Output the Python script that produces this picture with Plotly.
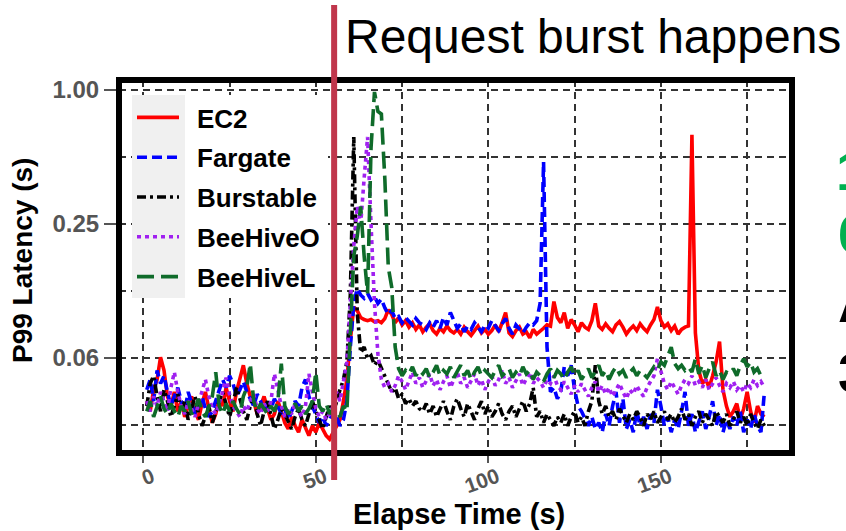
import plotly.graph_objects as go

# ---------------- data ----------------
elapsed = list(range(1, 181))

ec2 = [
    0.040, 0.036, 0.045, 0.050, 0.063, 0.055, 0.042, 0.038, 0.044, 0.036,
    0.040, 0.034, 0.038, 0.042, 0.036, 0.033, 0.039, 0.044, 0.037, 0.032,
    0.035, 0.041, 0.038, 0.046, 0.040, 0.036, 0.044, 0.050, 0.058, 0.048,
    0.042, 0.040, 0.035, 0.038, 0.042, 0.037, 0.033, 0.035, 0.040, 0.036,
    0.032, 0.030, 0.034, 0.031, 0.029, 0.033, 0.030, 0.028, 0.031, 0.029,
    0.032, 0.030, 0.028, 0.027, 0.029, 0.031, 0.033, 0.040, 0.050, 0.075,
    0.106, 0.102, 0.095, 0.093, 0.092, 0.093, 0.091, 0.092, 0.090, 0.094,
    0.103, 0.098, 0.090, 0.095, 0.088, 0.092, 0.086, 0.090, 0.084, 0.088,
    0.082, 0.086, 0.089, 0.083, 0.080, 0.085, 0.082, 0.087, 0.083, 0.081,
    0.084, 0.080, 0.086, 0.082, 0.079, 0.083, 0.087, 0.081, 0.084, 0.080,
    0.083, 0.088, 0.082, 0.090, 0.100, 0.081, 0.078, 0.083, 0.086, 0.080,
    0.082, 0.077, 0.084, 0.080, 0.083, 0.085, 0.088, 0.087, 0.112, 0.095,
    0.090, 0.100, 0.085, 0.093, 0.088, 0.082, 0.090, 0.086, 0.084, 0.092,
    0.110, 0.087, 0.084, 0.089, 0.085, 0.082, 0.088, 0.091, 0.086, 0.080,
    0.084, 0.087, 0.083, 0.089, 0.085, 0.082, 0.088, 0.093, 0.106, 0.092,
    0.086, 0.089, 0.083, 0.087, 0.080, 0.084, 0.086, 0.087, 0.630, 0.081,
    0.055, 0.048, 0.050, 0.046, 0.052, 0.060, 0.074, 0.045, 0.038, 0.034,
    0.036, 0.039, 0.033, 0.037, 0.044, 0.036, 0.032, 0.038, 0.035, 0.034,
]

fargate = [
    0.045, 0.050, 0.040, 0.055, 0.048, 0.052, 0.044, 0.038, 0.042, 0.046,
    0.040, 0.036, 0.044, 0.039, 0.035, 0.038, 0.042, 0.037, 0.034, 0.036,
    0.040, 0.044, 0.050, 0.046, 0.052, 0.048, 0.042, 0.045, 0.049, 0.044,
    0.041, 0.038, 0.043, 0.040, 0.036, 0.039, 0.037, 0.041, 0.038, 0.035,
    0.037, 0.033, 0.036, 0.040, 0.038, 0.046, 0.050, 0.042, 0.038, 0.035,
    0.032, 0.034, 0.031, 0.033, 0.036, 0.034, 0.031, 0.033, 0.040, 0.070,
    0.110, 0.128, 0.120, 0.116, 0.122, 0.114, 0.118, 0.110, 0.115, 0.105,
    0.098, 0.102, 0.094, 0.096, 0.090, 0.095, 0.092, 0.088, 0.094, 0.090,
    0.088, 0.084, 0.090, 0.086, 0.092, 0.085, 0.095, 0.088, 0.100, 0.092,
    0.085, 0.089, 0.082, 0.087, 0.084, 0.090, 0.086, 0.082, 0.088, 0.085,
    0.092, 0.087, 0.083, 0.089, 0.094, 0.085, 0.080, 0.088, 0.084, 0.081,
    0.086, 0.090, 0.088, 0.092, 0.110, 0.475, 0.070, 0.044, 0.046, 0.041,
    0.044, 0.057, 0.052, 0.058, 0.045, 0.038, 0.036, 0.033, 0.031, 0.034,
    0.030, 0.032, 0.029, 0.035, 0.031, 0.038, 0.044, 0.032, 0.041, 0.030,
    0.033, 0.029, 0.036, 0.031, 0.034, 0.030, 0.035, 0.032, 0.045, 0.038,
    0.031, 0.034, 0.029, 0.033, 0.030, 0.036, 0.044, 0.031, 0.035, 0.029,
    0.032, 0.036, 0.030, 0.034, 0.040, 0.031, 0.035, 0.029, 0.033, 0.030,
    0.034, 0.031, 0.036, 0.029, 0.033, 0.030, 0.035, 0.031, 0.029, 0.044,
]

burstable = [
    0.038, 0.048, 0.052, 0.042, 0.036, 0.045, 0.040, 0.034, 0.038, 0.043,
    0.036, 0.040, 0.033, 0.037, 0.042, 0.035, 0.031, 0.034, 0.038, 0.032,
    0.036, 0.040, 0.044, 0.038, 0.034, 0.039, 0.046, 0.041, 0.036, 0.033,
    0.038, 0.042, 0.035, 0.031, 0.036, 0.040, 0.034, 0.030, 0.033, 0.037,
    0.035, 0.032, 0.030, 0.034, 0.037, 0.033, 0.031, 0.035, 0.040, 0.036,
    0.033, 0.030, 0.034, 0.038, 0.035, 0.040, 0.045, 0.050, 0.060, 0.120,
    0.615, 0.100, 0.066, 0.070, 0.062, 0.064, 0.058, 0.061, 0.056, 0.052,
    0.048, 0.044, 0.046, 0.041, 0.043, 0.039, 0.041, 0.038, 0.040, 0.037,
    0.036, 0.039, 0.035, 0.038, 0.034, 0.037, 0.040, 0.036, 0.033, 0.038,
    0.041, 0.037, 0.034, 0.039, 0.036, 0.033, 0.037, 0.040, 0.035, 0.038,
    0.034, 0.036, 0.039, 0.035, 0.033, 0.036, 0.038, 0.034, 0.037, 0.040,
    0.036, 0.039, 0.046, 0.034, 0.036, 0.032, 0.035, 0.033, 0.031, 0.034,
    0.032, 0.035, 0.031, 0.034, 0.036, 0.032, 0.034, 0.031, 0.036, 0.040,
    0.058, 0.040, 0.035, 0.038, 0.034, 0.036, 0.033, 0.037, 0.034, 0.032,
    0.035, 0.033, 0.036, 0.034, 0.031, 0.035, 0.033, 0.036, 0.032, 0.034,
    0.036, 0.033, 0.035, 0.032, 0.034, 0.037, 0.033, 0.035, 0.031, 0.034,
    0.036, 0.032, 0.035, 0.033, 0.031, 0.036, 0.034, 0.032, 0.035, 0.031,
    0.033, 0.036, 0.032, 0.034, 0.031, 0.035, 0.032, 0.030, 0.033, 0.031,
]

beehive_o = [
    0.040, 0.036, 0.042, 0.038, 0.044, 0.040, 0.036, 0.046, 0.054, 0.044,
    0.038, 0.035, 0.040, 0.037, 0.034, 0.039, 0.044, 0.050, 0.042, 0.037,
    0.035, 0.039, 0.044, 0.051, 0.043, 0.038, 0.036, 0.034, 0.038, 0.036,
    0.040, 0.043, 0.037, 0.035, 0.039, 0.036, 0.040, 0.053, 0.045, 0.038,
    0.034, 0.037, 0.035, 0.039, 0.036, 0.034, 0.038, 0.053, 0.044, 0.037,
    0.034, 0.036, 0.033, 0.035, 0.038, 0.044, 0.040, 0.048, 0.060, 0.110,
    0.200, 0.300, 0.250, 0.400, 0.615, 0.250, 0.110, 0.065, 0.050, 0.046,
    0.048, 0.044, 0.047, 0.052, 0.049, 0.045, 0.050, 0.054, 0.048, 0.051,
    0.046, 0.049, 0.053, 0.047, 0.050, 0.045, 0.049, 0.052, 0.046, 0.050,
    0.054, 0.048, 0.051, 0.046, 0.049, 0.053, 0.047, 0.050, 0.045, 0.049,
    0.052, 0.047, 0.050, 0.055, 0.048, 0.051, 0.046, 0.049, 0.053, 0.047,
    0.050, 0.054, 0.048, 0.051, 0.049, 0.046, 0.050, 0.048, 0.052, 0.047,
    0.045, 0.049, 0.046, 0.043, 0.047, 0.044, 0.048, 0.045, 0.042, 0.046,
    0.049, 0.044, 0.047, 0.043, 0.046, 0.042, 0.045, 0.048, 0.044, 0.041,
    0.045, 0.043, 0.047, 0.044, 0.042, 0.046, 0.049, 0.052, 0.062, 0.055,
    0.048, 0.045, 0.049, 0.046, 0.043, 0.047, 0.050, 0.048, 0.052, 0.047,
    0.049, 0.046, 0.050, 0.045, 0.048, 0.051, 0.047, 0.044, 0.048, 0.046,
    0.049, 0.045, 0.047, 0.044, 0.048, 0.046, 0.050, 0.047, 0.049, 0.046,
]

beehive_l = [
    0.036, 0.040, 0.034, 0.038, 0.042, 0.037, 0.035, 0.039, 0.036, 0.034,
    0.038, 0.036, 0.040, 0.035, 0.037, 0.041, 0.036, 0.034, 0.038, 0.042,
    0.054, 0.038, 0.035, 0.039, 0.036, 0.040, 0.037, 0.035, 0.042, 0.046,
    0.059, 0.040, 0.036, 0.039, 0.037, 0.035, 0.038, 0.036, 0.040, 0.059,
    0.038, 0.035, 0.037, 0.039, 0.036, 0.038, 0.035, 0.037, 0.040, 0.054,
    0.038, 0.036, 0.039, 0.035, 0.037, 0.036, 0.034, 0.038, 0.036, 0.080,
    0.180, 0.220, 0.300, 0.180, 0.122, 0.550, 0.980, 0.800, 0.780, 0.400,
    0.160, 0.130, 0.070, 0.056, 0.052, 0.055, 0.053, 0.057, 0.052, 0.055,
    0.053, 0.056, 0.051, 0.054, 0.058, 0.052, 0.055, 0.053, 0.057, 0.051,
    0.054, 0.058, 0.052, 0.055, 0.050, 0.054, 0.057, 0.052, 0.055, 0.053,
    0.051, 0.055, 0.058, 0.052, 0.054, 0.056, 0.051, 0.054, 0.052, 0.057,
    0.053, 0.055, 0.050, 0.054, 0.052, 0.049, 0.053, 0.056, 0.051, 0.055,
    0.053, 0.050, 0.054, 0.057, 0.052, 0.055, 0.050, 0.053, 0.056, 0.051,
    0.054, 0.058, 0.052, 0.055, 0.050, 0.054, 0.057, 0.053, 0.055, 0.051,
    0.054, 0.056, 0.052, 0.055, 0.053, 0.051, 0.054, 0.057, 0.055, 0.060,
    0.058, 0.064, 0.070, 0.059, 0.056, 0.058, 0.055, 0.057, 0.054, 0.062,
    0.053, 0.058, 0.051, 0.056, 0.060, 0.052, 0.055, 0.050, 0.054, 0.053,
    0.056, 0.052, 0.058, 0.062, 0.057, 0.060, 0.054, 0.056, 0.052, 0.051,
]

series_names = ["EC2", "Fargate", "Burstable", "BeeHiveO", "BeeHiveL"]
series_values = [ec2, fargate, burstable, beehive_o, beehive_l]
series_colors = ["#FF0000", "#0000FF", "#000000", "#A020F0", "#0F6B2A"]
series_dash = ["solid", "10px,5px", "9px,4px,3px,4px", "4px,4px", "17px,7px"]

x_ticks = [0, 50, 100, 150]
x_minor = [25, 75, 125, 175]
y_ticks = [0.0625, 0.25, 1.0]
y_ticktext = ["0.06", "0.25", "1.00"]
y_minor = [0.03125, 0.125, 0.5]

burst_time = 55.3

# ---------------- layout geometry ----------------
W, H = 846, 531
L, R, T, B = 119, 54, 80, 78
PW, PH = W - L - R, H - T - B


def px(x):
    return (x - L) / PW


def py(y):
    return (H - B - y) / PH


BOLD = "Liberation Sans"
fig = go.Figure()
for name, vals, col, dash in zip(series_names, series_values, series_colors, series_dash):
    fig.add_trace(go.Scatter(
        x=elapsed, y=vals, mode="lines", name="\u2002" + name,
        line=dict(color=col, width=3.6, dash=dash),
        legendgroup=name,
    ))

grid = dict(showgrid=True, gridcolor="#333333", gridwidth=1.5, griddash="7px,5px")

fig.update_layout(
    width=W, height=H,
    margin=dict(l=L, r=R, t=T, b=B, pad=0),
    paper_bgcolor="white", plot_bgcolor="white",
    showlegend=True,
    legend=dict(
        x=px(132), y=py(94), xanchor="left", yanchor="top",
        bgcolor="rgba(0,0,0,0)", borderwidth=0,
        font=dict(family=BOLD, size=26, color="black", weight="bold"),
        traceorder="grouped", tracegroupgap=3, itemwidth=42,
    ),
    xaxis=dict(
        range=[-7.04, 188.0], tickmode="array", tickvals=x_ticks,
        ticktext=[str(v) for v in x_ticks], tickangle=-20,
        ticks="outside", ticklen=9, tickwidth=1.5, tickcolor="#555555",
        ticklabelshift=9, ticklabelstandoff=-6,
        tickfont=dict(family=BOLD, size=21, color="#555555", weight="bold"),
        zeroline=False, showline=False, automargin=False,
        minor=dict(tickmode="array", tickvals=x_minor, ticks="", **grid),
        **grid,
    ),
    yaxis=dict(
        type="log", range=[-1.631, 0.045], tickmode="array", tickvals=y_ticks,
        ticktext=y_ticktext,
        ticks="outside", ticklen=14, tickwidth=1.5, tickcolor="#555555",
        tickfont=dict(family=BOLD, size=24, color="#555555", weight="bold"),
        zeroline=False, showline=False, automargin=False,
        minor=dict(tickmode="array", tickvals=y_minor, ticks="", **grid),
        **grid,
    ),
    shapes=[
        dict(type="rect", xref="paper", yref="paper", x0=px(185), x1=px(328),
             y0=py(298), y1=py(95), fillcolor="white", line=dict(width=0), layer="above"),
        dict(type="rect", xref="paper", yref="paper", x0=px(132), x1=px(185),
             y0=py(298), y1=py(95), fillcolor="#F0F0F0", line=dict(width=0), layer="above"),
        dict(type="rect", xref="paper", yref="paper", x0=0, x1=1, y0=0, y1=1,
             line=dict(color="black", width=6), fillcolor="rgba(0,0,0,0)", layer="above"),
        dict(type="line", xref="paper", yref="paper",
             x0=px(143.3 + 3.451 * burst_time), x1=px(143.3 + 3.451 * burst_time),
             y0=py(480), y1=py(5), line=dict(color="#C0364C", width=6), layer="above"),
    ],
    annotations=[
        dict(text="Request burst happens", xref="paper", yref="paper",
             x=px(343), y=py(37), xanchor="left", yanchor="middle", showarrow=False,
             font=dict(family="Liberation Sans", size=48, color="black")),
        dict(text="P99 Latency (s)", xref="paper", yref="paper", textangle=-90,
             x=px(22), y=py(261), xanchor="center", yanchor="middle", showarrow=False,
             font=dict(family=BOLD, size=28, color="black", weight="bold")),
        dict(text="Elapse Time (s)", xref="paper", yref="paper",
             x=px(459), y=py(514), xanchor="center", yanchor="middle", showarrow=False,
             font=dict(family=BOLD, size=29, color="black", weight="bold")),
        dict(text="1", xref="paper", yref="paper", x=px(834), y=py(170),
             xanchor="left", yanchor="middle", showarrow=False,
             font=dict(family="Liberation Sans", size=56, color="#00B050", weight="bold")),
        dict(text="6", xref="paper", yref="paper", x=px(836), y=py(233),
             xanchor="left", yanchor="middle", showarrow=False,
             font=dict(family="Liberation Sans", size=56, color="#00B050", weight="bold")),
        dict(text="A", xref="paper", yref="paper", x=px(836), y=py(302),
             xanchor="left", yanchor="middle", showarrow=False,
             font=dict(family="Liberation Sans", size=56, color="black", weight="bold")),
        dict(text="3", xref="paper", yref="paper", x=px(836), y=py(372),
             xanchor="left", yanchor="middle", showarrow=False,
             font=dict(family="Liberation Sans", size=56, color="black", weight="bold")),
    ],
)

fig.write_html("out.html")
